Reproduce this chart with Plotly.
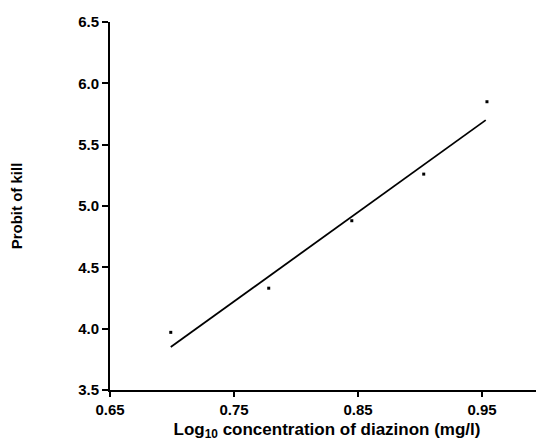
import plotly.graph_objects as go

log_conc = [0.699, 0.778, 0.845, 0.903, 0.954]
probit = [3.97, 4.33, 4.88, 5.26, 5.85]
fit_x = [0.699, 0.953]
fit_y = [3.85, 5.70]
x_ticks = [0.65, 0.75, 0.85, 0.95]
x_tick_labels = ["0.65", "0.75", "0.85", "0.95"]
y_ticks = [3.5, 4.0, 4.5, 5.0, 5.5, 6.0, 6.5]
y_tick_labels = ["3.5", "4.0", "4.5", "5.0", "5.5", "6.0", "6.5"]

fig = go.Figure()
fig.add_trace(go.Scatter(x=fit_x, y=fit_y, mode="lines",
                         line=dict(color="black", width=1.8), showlegend=False))
fig.add_trace(go.Scatter(x=log_conc, y=probit, mode="markers",
                         marker=dict(symbol="square", size=3, color="black"),
                         showlegend=False))

font = dict(family="Liberation Sans, Arial, sans-serif", size=15, color="black")
fig.update_layout(
    width=536, height=434,
    margin=dict(l=102, r=0, t=14, b=52),
    plot_bgcolor="white", paper_bgcolor="white",
    font=font,
    xaxis=dict(range=[0.65, 1.0], tickvals=x_ticks, ticktext=["<b>%s</b>" % t for t in x_tick_labels],
               showline=True, linecolor="black", linewidth=2, ticks="outside",
               ticklen=5, tickwidth=2, tickcolor="black", showgrid=False, zeroline=False,
               automargin=False, tickfont=dict(size=15),
               title=dict(text="<b>Log<sub>10</sub> concentration of diazinon (mg/l)</b>",
                          font=dict(size=17), standoff=6)),
    yaxis=dict(range=[3.5, 6.5], tickvals=y_ticks, ticktext=["<b>%s</b>" % t for t in y_tick_labels],
               showline=True, linecolor="black", linewidth=2, ticks="outside",
               ticklen=6, tickwidth=2, tickcolor="black", showgrid=False, zeroline=False,
               automargin=False, tickfont=dict(size=15),
               title=dict(text="<b>Probit of kill</b>", font=dict(size=15), standoff=58)),
)
fig.write_html("out.html")
